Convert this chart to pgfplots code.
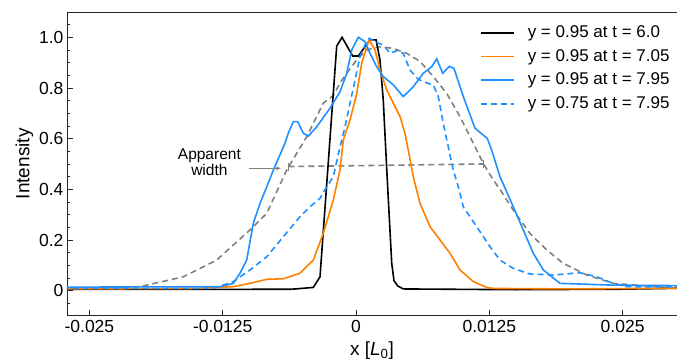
\documentclass[border=0pt]{standalone}
\usepackage{pgfplots}
\pgfplotsset{compat=1.18}
\usetikzlibrary{arrows.meta}
\usepackage{fontspec}
\setmainfont{Liberation Sans}
\definecolor{cOrange}{RGB}{255,128,0}
\definecolor{cBlue}{RGB}{30,144,255}
\definecolor{cGray}{RGB}{128,128,128}
\begin{document}
\begin{tikzpicture}
\begin{axis}[
  name=ax,
  scale only axis,
  width=610pt, height=303.7pt,
  xmin=-0.0271, xmax=0.0301,
  ymin=-0.0986, ymax=1.0998,
  separate axis lines,
  axis x line*=bottom,
  axis y line*=left,
  axis line style={black!85, line width=0.9pt},
  tick align=inside,
  tick style={black!85, line width=0.8pt},
  major tick length=6pt,
  minor tick length=3.5pt,
  xtick={-0.025,-0.0125,0,0.0125,0.025},
  xticklabels={-0.025,-0.0125,0,0.0125,0.025},
  ytick={0,0.2,0.4,0.6,0.8,1.0},
  yticklabels={0,0.2,0.4,0.6,0.8,1.0},
  minor ytick={-0.05,0.05,0.1,0.15,0.25,0.3,0.35,0.45,0.5,0.55,0.65,0.7,0.75,0.85,0.9,0.95,1.05},
  scaled x ticks=false,
  ticklabel style={font=\fontsize{17.5}{20}\selectfont},
  /pgf/number format/assume math mode=true,
  xticklabel style={yshift=-1pt},
  yticklabel style={xshift=0pt},
  xlabel={x [\textit{L}\textsubscript{0}]},
  ylabel={Intensity},
  label style={font=\fontsize{19}{22}\selectfont},
  xlabel style={yshift=-2pt},
  ylabel style={yshift=-1pt},
  clip=true,
  legend cell align=left,
  legend image code/.code={\draw[#1] (0pt,0pt) -- (33pt,0pt);},
  legend style={at={(axis description cs:0.677,0.9585)}, anchor=north west, draw=none, fill=none,
    font=\fontsize{17}{18}\selectfont, inner sep=0pt, row sep=7.7pt,
    nodes={inner sep=0pt, text height=12.5pt, text depth=3.5pt, font=\fontsize{17}{18}\selectfont},
    /tikz/every odd column/.append style={column sep=13pt}},
]
\addlegendimage{black, line width=1.6pt}
\addlegendentry{y = 0.95 at t = 6.0}
\addlegendimage{cOrange, line width=1.6pt}
\addlegendentry{y = 0.95 at t = 7.05}
\addlegendimage{cBlue, line width=1.6pt}
\addlegendentry{y = 0.95 at t = 7.95}
\addlegendimage{cBlue, line width=1.6pt, dash pattern=on 6pt off 4pt}
\addlegendentry{y = 0.75 at t = 7.95}

% top frame line (no right frame in the reference)
\draw[black!85, line width=0.9pt] (rel axis cs:0,1) -- (rel axis cs:1,1);

% gray dashed: gaussian profile
\addplot[cGray, line width=1.6pt, dash pattern=on 6pt off 4pt, forget plot] coordinates {
(-0.0275,0.004) (-0.02025,0.016) (-0.01619,0.055) (-0.01306,0.121) (-0.00994,0.24)
(-0.00837,0.305) (-0.0065,0.476) (-0.00462,0.608) (-0.00307,0.74) (-0.00213,0.77)
(-0.0015,0.82) (-0.00087,0.858) (0.00007,0.911) (0.001,0.95) (0.00225,0.963)
(0.0035,0.956) (0.00475,0.937) (0.006,0.905) (0.00725,0.845) (0.0085,0.779)
(0.00975,0.687) (0.011,0.582) (0.01193,0.503) (0.01287,0.437) (0.0135,0.4)
(0.01475,0.318) (0.01631,0.226) (0.01788,0.161) (0.01943,0.108) (0.02163,0.062)
(0.02412,0.029) (0.0305,0.008)};

% apparent width line
\addplot[cGray, line width=1.6pt, dash pattern=on 6pt off 4pt, forget plot,
  mark=|, mark size=4pt, mark options={solid, line width=1.1pt}] coordinates {
(-0.00635,0.49) (0.01193,0.50)};

% black: y = 0.95 at t = 6.0
\addplot[black, line width=1.6pt, forget plot] coordinates {
(-0.0275,0.005) (-0.015,0.005) (-0.0060,0.006) (-0.00400,0.013) (-0.003375,0.055)
(-0.00181,0.965) (-0.00131,1.0) (-0.00031,0.926) (0.00022,0.926) (0.00084,0.963)
(0.00131,0.99) (0.00188,0.99) (0.00225,0.91) (0.00256,0.75) (0.00288,0.48)
(0.00335,0.108) (0.00356,0.04) (0.00391,0.019) (0.00443,0.007) (0.015,0.004)
(0.025,0.006) (0.0305,0.01)};

% orange: y = 0.95 at t = 7.05
\addplot[cOrange, line width=1.6pt, forget plot] coordinates {
(-0.0275,0.007) (-0.015,0.009) (-0.0115,0.016) (-0.00963,0.032) (-0.00837,0.045)
(-0.00682,0.047) (-0.00525,0.069) (-0.00400,0.121) (-0.00307,0.226) (-0.00213,0.358)
(-0.0015,0.476) (-0.00119,0.595) (-0.00056,0.674) (0.00007,0.779) (0.00053,0.897)
(0.001,0.963) (0.00125,0.99) (0.00178,0.95) (0.00225,0.871) (0.00288,0.792)
(0.0035,0.74) (0.00413,0.687) (0.00459,0.621) (0.0049,0.555) (0.00537,0.45)
(0.006,0.345) (0.00694,0.253) (0.00788,0.2) (0.00881,0.148) (0.00975,0.082)
(0.011,0.036) (0.01225,0.013) (0.01287,0.009) (0.02,0.007) (0.0305,0.01)};

% blue solid: y = 0.95 at t = 7.95
\addplot[cBlue, line width=1.6pt, forget plot] coordinates {
(-0.0275,0.014) (-0.01275,0.016) (-0.0115,0.029) (-0.01088,0.069) (-0.01025,0.121)
(-0.00963,0.266) (-0.009,0.345) (-0.00837,0.41) (-0.00775,0.476) (-0.00666,0.582)
(-0.00635,0.621) (-0.00588,0.667) (-0.00547,0.667) (-0.00494,0.621) (-0.00447,0.61)
(-0.00368,0.647) (-0.00244,0.72) (-0.0015,0.785) (-0.00087,0.858) (-0.0004,0.95)
(0.00022,1.0) (0.00084,0.983) (0.00131,0.937) (0.00194,0.884) (0.00256,0.845)
(0.0035,0.812) (0.00443,0.766) (0.00537,0.805) (0.00631,0.858) (0.0071,0.884)
(0.00757,0.915) (0.00813,0.858) (0.00875,0.885) (0.00919,0.877) (0.01006,0.766)
(0.01116,0.641) (0.01231,0.601) (0.01272,0.555) (0.0135,0.45) (0.01475,0.331)
(0.01568,0.24) (0.01662,0.148) (0.01756,0.082) (0.01913,0.029) (0.02412,0.022)
(0.0305,0.02)};

% blue dashed: y = 0.75 at t = 7.95
\addplot[cBlue, line width=1.6pt, dash pattern=on 6pt off 4pt, forget plot] coordinates {
(-0.0275,0.01) (-0.01338,0.009) (-0.0115,0.036) (-0.00994,0.082) (-0.00837,0.134)
(-0.00682,0.213) (-0.00525,0.292) (-0.00431,0.331) (-0.003375,0.365) (-0.00275,0.41)
(-0.00213,0.45) (-0.0015,0.568) (-0.00103,0.647) (-0.00056,0.74) (-0.00009,0.831)
(0.000375,0.924) (0.00084,0.97) (0.00125,0.996) (0.00194,0.979) (0.00256,0.97)
(0.00319,0.937) (0.00382,0.947) (0.00443,0.937) (0.00506,0.871) (0.00584,0.834)
(0.00663,0.82) (0.00725,0.812) (0.00772,0.766) (0.00818,0.66) (0.00865,0.568)
(0.00912,0.476) (0.00959,0.41) (0.01006,0.331) (0.01131,0.253) (0.01256,0.174)
(0.0135,0.121) (0.01475,0.088) (0.01631,0.066) (0.0185,0.062) (0.021,0.071)
(0.02257,0.055) (0.02412,0.029) (0.02538,0.016) (0.0305,0.015)};

% annotation
\draw[cGray, line width=1.1pt, -{Latex[length=5pt,width=4pt]}] (axis cs:-0.0100,0.483) -- (axis cs:-0.0070,0.483);
\node[align=center, font=\fontsize{15.5}{16}\selectfont, inner sep=0pt] at (axis cs:-0.01375,0.505) {Apparent\\width};
\end{axis}
\pgfresetboundingbox
\path ([shift={(-67pt,-46.3pt)}]ax.south west) rectangle ([shift={(0pt,12pt)}]ax.north east);
\end{tikzpicture}
\end{document}
